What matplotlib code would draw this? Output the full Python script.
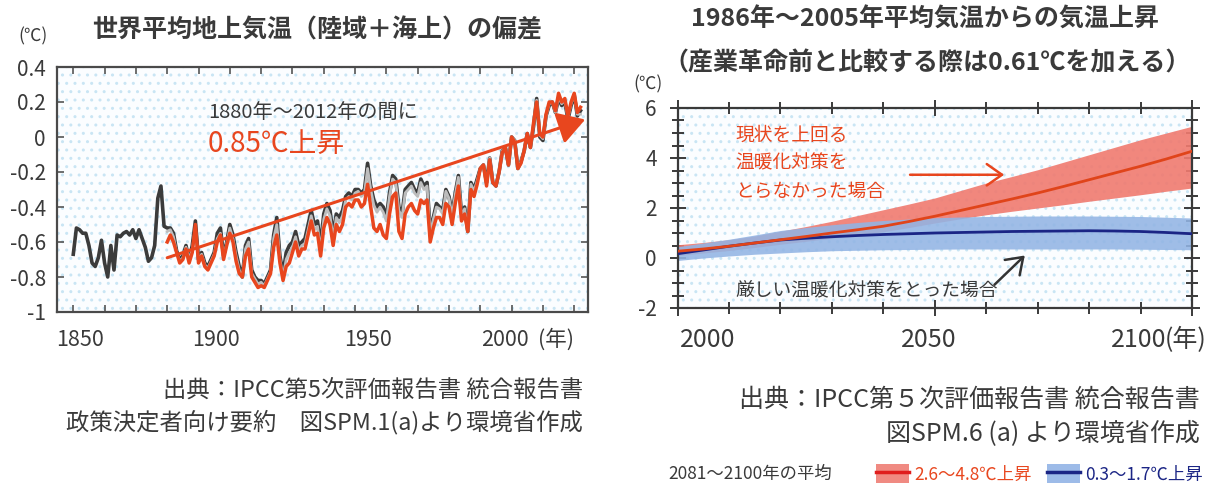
import numpy as np
import matplotlib
matplotlib.use('Agg')
import matplotlib.pyplot as plt
from matplotlib.patches import Rectangle, Patch
from matplotlib.lines import Line2D
from matplotlib.ticker import MultipleLocator

plt.rcParams['font.family'] = ['Noto Sans CJK JP', 'DejaVu Sans']

# ---- 左: 世界平均地上気温の偏差 (℃) ----
black_start = 1850
black_vals = [
    -0.67, -0.52, -0.53, -0.55, -0.55, -0.62, -0.72, -0.74, -0.69, -0.59,
    -0.72, -0.80, -0.62, -0.76, -0.56, -0.57, -0.55, -0.54, -0.56, -0.53,
    -0.58, -0.53, -0.58, -0.63, -0.71, -0.69, -0.62, -0.35, -0.28, -0.51,
    -0.52, -0.52, -0.55, -0.65, -0.70, -0.68, -0.62, -0.70, -0.62, -0.48,
    -0.70, -0.66, -0.72, -0.74, -0.70, -0.66, -0.55, -0.52, -0.68, -0.60,
    -0.50, -0.56, -0.66, -0.74, -0.80, -0.62, -0.58, -0.76, -0.80, -0.82,
    -0.82, -0.84, -0.80, -0.76, -0.56, -0.46, -0.68, -0.78, -0.66, -0.62,
    -0.60, -0.54, -0.62, -0.60, -0.58, -0.50, -0.42, -0.50, -0.48, -0.62,
    -0.44, -0.38, -0.42, -0.56, -0.44, -0.46, -0.42, -0.34, -0.32, -0.34,
    -0.30, -0.30, -0.32, -0.30, -0.15, -0.28, -0.36, -0.40, -0.38, -0.40,
    -0.46, -0.32, -0.22, -0.24, -0.40, -0.44, -0.30, -0.28, -0.26, -0.30,
    -0.32, -0.24, -0.28, -0.26, -0.54, -0.46, -0.38, -0.40, -0.42, -0.30,
    -0.34, -0.44, -0.32, -0.22, -0.44, -0.40, -0.54, -0.26, -0.30, -0.24,
    -0.18, -0.16, -0.26, -0.12, -0.26, -0.28, -0.20, -0.08, -0.06, -0.16,
    0.00, -0.02, -0.18, -0.14, -0.08, 0.02, -0.06, 0.06, 0.22, 0.00,
    -0.02, 0.12, 0.18, 0.20, 0.14, 0.22, 0.18, 0.20, 0.10, 0.18,
    0.24, 0.12, 0.15,
]
other_start = 1880
gray_vals = [
    -0.54, -0.53, -0.57, -0.66, -0.71, -0.69, -0.63, -0.70, -0.64, -0.52,
    -0.71, -0.67, -0.73, -0.75, -0.71, -0.67, -0.58, -0.55, -0.69, -0.61,
    -0.52, -0.58, -0.68, -0.76, -0.80, -0.64, -0.60, -0.78, -0.81, -0.84,
    -0.83, -0.85, -0.81, -0.77, -0.58, -0.50, -0.70, -0.80, -0.70, -0.66,
    -0.63, -0.57, -0.65, -0.62, -0.61, -0.53, -0.45, -0.53, -0.51, -0.65,
    -0.47, -0.41, -0.45, -0.58, -0.46, -0.49, -0.45, -0.36, -0.34, -0.36,
    -0.32, -0.31, -0.34, -0.32, -0.18, -0.30, -0.39, -0.43, -0.40, -0.43,
    -0.48, -0.34, -0.24, -0.26, -0.42, -0.46, -0.32, -0.30, -0.28, -0.32,
    -0.34, -0.26, -0.30, -0.28, -0.55, -0.47, -0.40, -0.41, -0.44, -0.31,
    -0.35, -0.45, -0.33, -0.23, -0.45, -0.41, -0.54, -0.27, -0.31, -0.25,
    -0.18, -0.16, -0.27, -0.12, -0.26, -0.28, -0.20, -0.08, -0.06, -0.16,
    0.00, -0.02, -0.18, -0.14, -0.08, 0.02, -0.06, 0.07, 0.21, 0.01,
    -0.01, 0.12, 0.19, 0.20, 0.14, 0.23, 0.19, 0.21, 0.11, 0.19,
    0.24, 0.13, 0.13,
]
red_vals = [
    -0.60, -0.56, -0.60, -0.66, -0.72, -0.70, -0.64, -0.72, -0.66, -0.50,
    -0.72, -0.68, -0.74, -0.76, -0.72, -0.68, -0.60, -0.56, -0.70, -0.62,
    -0.55, -0.60, -0.71, -0.78, -0.80, -0.68, -0.64, -0.80, -0.83, -0.86,
    -0.85, -0.86, -0.82, -0.78, -0.63, -0.56, -0.72, -0.82, -0.74, -0.72,
    -0.66, -0.60, -0.68, -0.64, -0.64, -0.56, -0.48, -0.56, -0.55, -0.68,
    -0.52, -0.46, -0.50, -0.62, -0.50, -0.54, -0.50, -0.40, -0.38, -0.40,
    -0.36, -0.36, -0.40, -0.38, -0.27, -0.40, -0.52, -0.54, -0.50, -0.56,
    -0.58, -0.44, -0.34, -0.32, -0.54, -0.58, -0.44, -0.40, -0.38, -0.42,
    -0.44, -0.36, -0.38, -0.36, -0.60, -0.52, -0.46, -0.46, -0.50, -0.38,
    -0.40, -0.50, -0.38, -0.28, -0.48, -0.44, -0.54, -0.30, -0.34, -0.27,
    -0.18, -0.16, -0.28, -0.13, -0.26, -0.28, -0.20, -0.09, -0.06, -0.16,
    0.00, -0.03, -0.18, -0.15, -0.08, 0.02, -0.06, 0.08, 0.20, 0.02,
    0.00, 0.13, 0.20, 0.20, 0.15, 0.25, 0.20, 0.22, 0.12, 0.20,
    0.25, 0.14, 0.17,
]
trend_years = [1880, 2013.5]
trend_vals = [-0.69, 0.10]
left_xlabels = ['1850', '1900', '1950', '2000']
left_yticks = [0.4, 0.2, 0, -0.2, -0.4, -0.6, -0.8, -1]
left_ylabels = ['0.4', '0.2', '0', '-0.2', '-0.4', '-0.6', '-0.8', '-1']

# ---- 右: 1986~2005年平均からの気温上昇 (℃) ----
proj_years = [2000, 2005, 2010, 2015, 2020, 2025, 2030, 2035, 2040, 2045, 2050,
              2055, 2060, 2065, 2070, 2075, 2080, 2085, 2090, 2095, 2100]
high_mean = [0.27, 0.36, 0.47, 0.60, 0.73, 0.86, 1.00, 1.13, 1.27, 1.46, 1.67,
             1.90, 2.13, 2.36, 2.60, 2.86, 3.13, 3.40, 3.67, 3.96, 4.27]
high_upper = [0.53, 0.62, 0.73, 0.88, 1.07, 1.26, 1.47, 1.70, 1.93, 2.16, 2.40,
              2.70, 3.00, 3.26, 3.53, 3.83, 4.13, 4.43, 4.73, 5.00, 5.27]
high_lower = [0.10, 0.20, 0.30, 0.42, 0.55, 0.67, 0.80, 0.92, 1.05, 1.22, 1.40,
              1.57, 1.73, 1.87, 2.00, 2.13, 2.27, 2.40, 2.53, 2.67, 2.80]
low_mean = [0.17, 0.32, 0.47, 0.60, 0.72, 0.79, 0.85, 0.90, 0.94, 0.97, 1.00,
            1.02, 1.04, 1.06, 1.07, 1.08, 1.09, 1.08, 1.06, 1.02, 0.97]
low_upper = [0.45, 0.60, 0.75, 0.92, 1.10, 1.22, 1.33, 1.42, 1.50, 1.56, 1.61,
             1.64, 1.66, 1.67, 1.68, 1.68, 1.68, 1.67, 1.66, 1.63, 1.60]
low_lower = [-0.10, 0.00, 0.08, 0.15, 0.20, 0.25, 0.29, 0.31, 0.33, 0.34, 0.35,
             0.36, 0.36, 0.36, 0.36, 0.36, 0.36, 0.36, 0.35, 0.34, 0.33]
right_xlabels = ['2000', '2050', '2100']
right_yticks = [-2, 0, 2, 4, 6]
legend_labels = ['2.6～4.8℃上昇', '0.3～1.7℃上昇']

W, H = 1205, 490
TXT = '#3a3a3a'
ORANGE = '#e8461e'

fig = plt.figure(figsize=(W / 100, H / 100), dpi=100)


def dotted_bg(ax):
    # 背景の薄い水色のドット
    ax.add_patch(Rectangle((0, 0), 1, 1, transform=ax.transAxes, facecolor='#fbfdff',
                           edgecolor='#c9e5f4', hatch='..', lw=0, zorder=0))


# 左のグラフ
ax1 = fig.add_axes([57 / W, 1 - 312 / H, 531 / W, 245 / H])
dotted_bg(ax1)
bx = np.arange(black_start, black_start + len(black_vals))
ox = np.arange(other_start, other_start + len(red_vals))
ax1.plot(bx, black_vals, color='#3b3b3b', lw=2.6, zorder=3, solid_joinstyle='round')
ax1.plot(ox, gray_vals, color='#bdbdbd', lw=2.0, zorder=3.5, solid_joinstyle='round')
ax1.plot(ox, red_vals, color=ORANGE, lw=2.5, zorder=4, solid_joinstyle='round')
ax1.annotate('', xy=(trend_years[1], trend_vals[1]), xytext=(trend_years[0], trend_vals[0]),
             arrowprops=dict(arrowstyle='-|>,head_length=0.75,head_width=0.45', color=ORANGE,
                             lw=2.2, mutation_scale=22, shrinkA=0, shrinkB=0), zorder=5)
ax1.text(1893, 0.14, '1880年～2012年の間に', fontsize=14.5, color=TXT, va='center')
ax1.text(1893, -0.04, '0.85℃上昇', fontsize=20, color=ORANGE, va='center')

ax1.set_xlim(1844.8, 2014.4)
ax1.set_ylim(-1, 0.4)
ax1.set_yticks(left_yticks)
ax1.set_yticklabels(left_ylabels)
ax1.set_xticks(np.arange(1850, 2011, 10))
ax1.set_xticklabels([])
ax1.tick_params(direction='in', top=True, right=True, length=5, width=1.2,
                color='#555555', labelsize=15, labelcolor=TXT, pad=8)
for s in ax1.spines.values():
    s.set_color('#4a4a4a')
    s.set_linewidth(1.6)
for lab, yr, dx in zip(left_xlabels, [1850, 1900, 1950, 2000], [7, -14, -18, -38]):
    ax1.annotate(lab, xy=(yr, 0), xycoords=ax1.get_xaxis_transform(), xytext=(dx, -28),
                 textcoords='offset pixels', ha='center', va='center', fontsize=15.5, color=TXT)
fig.text(556 / W, 1 - 340 / H, '(年)', ha='center', va='center', fontsize=15.5, color=TXT)

fig.text(317 / W, 1 - 30 / H, '世界平均地上気温（陸域＋海上）の偏差', ha='center', va='center',
         fontsize=18, fontweight='bold', color=TXT)
fig.text(33 / W, 1 - 36 / H, '(℃)', ha='center', va='center', fontsize=12.5, color=TXT)
fig.text(583 / W, 1 - 390 / H, '出典：IPCC第5次評価報告書 統合報告書', ha='right', va='center',
         fontsize=16.8, color=TXT)
fig.text(583 / W, 1 - 422 / H, '政策決定者向け要約　図SPM.1(a)より環境省作成', ha='right',
         va='center', fontsize=16.8, color=TXT)

# 右のグラフ
ax2 = fig.add_axes([677.5 / W, 1 - 308 / H, 514.5 / W, 200 / H])
dotted_bg(ax2)
ax2.fill_between(proj_years, high_lower, high_upper, color='#f07a6f', alpha=0.9, lw=0, zorder=2)
ax2.fill_between(proj_years, low_lower, low_upper, color='#92b4e4', alpha=0.88, lw=0, zorder=2.5)
ax2.plot(proj_years, high_mean, color='#e0441a', lw=2, zorder=3.5)
ax2.plot(proj_years, low_mean, color='#1b2585', lw=2, zorder=3)

ax2.text(2011.3, 3.8, '現状を上回る\n温暖化対策を\nとらなかった場合', fontsize=13.5,
         color=ORANGE, va='center', ha='left', linespacing=1.45)
ax2.text(2011.3, -1.27, '厳しい温暖化対策をとった場合', fontsize=13.5, color=TXT,
         va='center', ha='left')
ax2.annotate('', xy=(2063.5, 3.33), xytext=(2045.2, 3.33),
             arrowprops=dict(arrowstyle='->,head_length=0.5,head_width=0.35', color=ORANGE,
                             lw=1.8, mutation_scale=22, shrinkA=0, shrinkB=0))
ax2.annotate('', xy=(2067.5, 0.1), xytext=(2061.6, -1.07),
             arrowprops=dict(arrowstyle='->,head_length=0.5,head_width=0.35', color='#333333',
                             lw=1.8, mutation_scale=22, shrinkA=0, shrinkB=0))

ax2.set_xlim(2000, 2100)
ax2.set_ylim(-2, 6)
ax2.set_yticks(right_yticks)
ax2.set_yticklabels([str(v) for v in right_yticks])
ax2.yaxis.set_minor_locator(MultipleLocator(0.5))
ax2.set_xticks([2000, 2050, 2100])
ax2.set_xticklabels([])
ax2.xaxis.set_minor_locator(MultipleLocator(10))
ax2.tick_params(which='both', direction='inout', top=True, right=True, color='#3a3a3a',
                width=1.4, labelsize=15, labelcolor=TXT)
ax2.tick_params(which='major', length=12, pad=9)
ax2.tick_params(which='minor', length=8)
for s in ax2.spines.values():
    s.set_color('#3a3a3a')
    s.set_linewidth(1.6)
for lab, yr, dx in zip(right_xlabels, [2000, 2050, 2100], [30, -6, -53]):
    ax2.annotate(lab, xy=(yr, 0), xycoords=ax2.get_xaxis_transform(), xytext=(dx, -32),
                 textcoords='offset pixels', ha='center', va='center', fontsize=18, color=TXT)
fig.text(1186 / W, 1 - 340 / H, '(年)', ha='center', va='center', fontsize=18, color=TXT)

fig.text(925 / W, 1 - 20 / H, '1986年～2005年平均気温からの気温上昇', ha='center', va='center',
         fontsize=18, fontweight='bold', color=TXT)
fig.text(927 / W, 1 - 63 / H, '（産業革命前と比較する際は0.61℃を加える）', ha='center',
         va='center', fontsize=18, fontweight='bold', color=TXT)
fig.text(648 / W, 1 - 84 / H, '(℃)', ha='center', va='center', fontsize=12.5, color=TXT)
fig.text(1200 / W, 1 - 400 / H, '出典：IPCC第５次評価報告書 統合報告書', ha='right', va='center',
         fontsize=18, color=TXT)
fig.text(1200 / W, 1 - 433 / H, '図SPM.6 (a) より環境省作成', ha='right', va='center',
         fontsize=18, color=TXT)

# 凡例
fig.text(668 / W, 1 - 474 / H, '2081～2100年の平均', ha='left', va='center', fontsize=12.5,
         color=TXT)
handles = [(Patch(facecolor='#f08a82', edgecolor='none'), Line2D([], [], color='#e01e1e', lw=2.5)),
           (Patch(facecolor='#9dbbe8', edgecolor='none'), Line2D([], [], color='#1b2585', lw=2.5))]
leg = fig.legend(handles, legend_labels, ncol=2, loc='center left',
                 bbox_to_anchor=(876 / W, 1 - 474 / H), frameon=False, fontsize=12.5,
                 handlelength=1.9, handleheight=1.3, handletextpad=0.3, columnspacing=0.9,
                 borderaxespad=0, borderpad=0)
for t, c in zip(leg.get_texts(), [ORANGE, '#1b2585']):
    t.set_color(c)

fig.savefig('out.png', dpi=100)
